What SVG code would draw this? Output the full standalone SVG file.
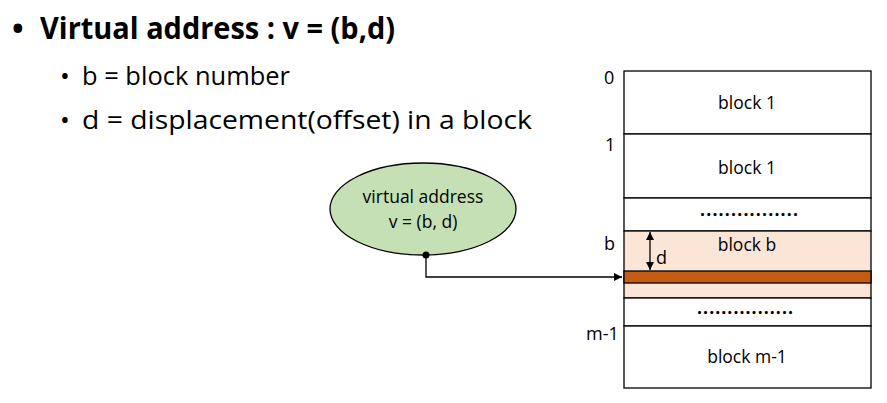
<svg xmlns="http://www.w3.org/2000/svg" width="887" height="403" viewBox="0 0 887 403">
<style>
text{font-family:"Open Sans","Liberation Sans",sans-serif;fill:#000}
.h{font-size:31px;font-weight:bold}
.s{font-size:26px}
.n{font-size:18px}
.lab{font-size:17.5px;text-anchor:middle}
.row{fill:#fff;stroke:#000;stroke-width:1.3}
.pink{fill:#fbe5d6;stroke:#000;stroke-width:1.3}
</style>
<defs>
<marker id="ah" viewBox="0 0 10 10" refX="10" refY="5" markerWidth="8" markerHeight="8" markerUnits="userSpaceOnUse" orient="auto-start-reverse"><path d="M0,0L10,5L0,10z" fill="#000"/></marker>
</defs>
<rect width="887" height="403" fill="#fff"/>
<g id="title">
<text class="h" x="12" y="39">•</text>
<text class="h" x="40" y="39" textLength="355" lengthAdjust="spacingAndGlyphs">Virtual address : v = (b,d)</text>
<text class="s" x="60" y="85">•</text>
<text class="s" x="82" y="85" textLength="208" lengthAdjust="spacingAndGlyphs">b = block number</text>
<text class="s" x="60" y="129">•</text>
<text class="s" x="82" y="129" textLength="450" lengthAdjust="spacingAndGlyphs">d = displacement(offset) in a block</text>
</g>
<g id="memory">
<rect class="row" x="624" y="71" width="247" height="63"/>
<rect class="row" x="624" y="134" width="247" height="64"/>
<rect class="row" x="624" y="198" width="247" height="33"/>
<rect class="pink" x="624" y="231" width="247" height="67"/>
<rect x="624" y="271" width="247" height="12" fill="#c55a11" stroke="#000" stroke-width="1.3"/>
<rect class="row" x="624" y="298" width="247" height="28"/>
<rect class="row" x="624" y="326" width="247" height="62"/>
<text class="lab" x="747" y="109">block 1</text>
<text class="lab" x="747" y="174">block 1</text>
<text class="lab" x="749" y="216" font-weight="bold" textLength="98" lengthAdjust="spacing">................</text>
<text class="lab" x="747" y="251">block b</text>
<text class="lab" x="745" y="314" font-weight="bold" textLength="96" lengthAdjust="spacing">................</text>
<text class="lab" x="747" y="363">block m-1</text>
<text class="n" x="604" y="84">0</text>
<text class="n" x="605" y="151">1</text>
<text class="n" x="604" y="250">b</text>
<text class="n" x="586" y="340">m-1</text>
<line x1="650" y1="232" x2="650" y2="270" stroke="#000" stroke-width="1.3" marker-start="url(#ah)" marker-end="url(#ah)"/>
<text class="n" x="656" y="264">d</text>
</g>
<g id="va">
<ellipse cx="423" cy="209" rx="93" ry="46" fill="#c5e0b4" stroke="#000" stroke-width="1.3"/>
<text class="lab" x="423" y="203">virtual address</text>
<text class="lab" x="423" y="228">v = (b, d)</text>
</g>
<g id="connectors">
<circle cx="426" cy="255" r="3.5" fill="#000"/>
<path d="M426,255V277H622" fill="none" stroke="#000" stroke-width="1.3" marker-end="url(#ah)"/>
</g>
</svg>
